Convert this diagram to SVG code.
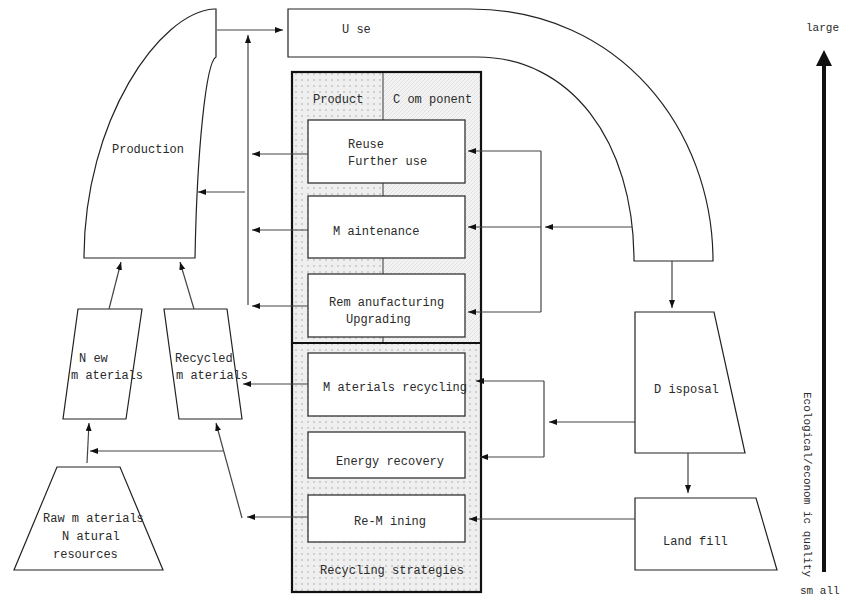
<svg xmlns="http://www.w3.org/2000/svg" width="842" height="598" viewBox="0 0 842 598">
<style>
  text { font-family: "Liberation Mono", "DejaVu Sans Mono", monospace; font-size: 12px; fill: #2a2a2a; }
  .small { font-size: 11px; }
  .shape { fill: #fff; stroke: #222; stroke-width: 1.2; }
  .box { fill: #fff; stroke: #333; stroke-width: 1.3; }
  .conn { fill: none; stroke: #444; stroke-width: 1.2; }
</style>
<defs>
  <marker id="ah" markerUnits="userSpaceOnUse" markerWidth="8" markerHeight="6" refX="8" refY="3" orient="auto">
    <path d="M0,0 L8,3 L0,6 z" fill="#111"/>
  </marker>
  <pattern id="dots" width="6" height="6" patternUnits="userSpaceOnUse">
    <rect width="6" height="6" fill="#efefef"/>
    <rect x="1" y="1" width="2" height="2" fill="#cfcfcf"/>
  </pattern>
  <pattern id="hatch" width="4" height="4" patternUnits="userSpaceOnUse">
    <rect width="4" height="4" fill="#f3f3f3"/>
    <path d="M0,4 L4,0" stroke="#dcdcdc" stroke-width="0.8"/>
  </pattern>
</defs>
<rect width="842" height="598" fill="#fff"/>

<g id="strategies">
  <rect x="292" y="72" width="91" height="271" fill="url(#dots)"/>
  <rect x="383" y="72" width="98" height="271" fill="url(#hatch)"/>
  <rect x="292" y="343" width="189" height="249" fill="url(#dots)"/>
  <line x1="383" y1="72" x2="383" y2="343" stroke="#555" stroke-width="1.2"/>
  <rect x="292" y="72" width="189" height="520" fill="none" stroke="#111" stroke-width="2.2"/>
  <line x1="292" y1="343" x2="481" y2="343" stroke="#111" stroke-width="2"/>
  <text x="313" y="103">Product</text>
  <text x="393" y="103">C om ponent</text>
  <text x="320" y="574">Recycling strategies</text>
</g>

<g id="reuse">
  <rect class="box" x="308" y="120" width="157" height="63"/>
  <text x="348" y="148">Reuse</text>
  <text x="348" y="165">Further use</text>
</g>
<g id="maintenance">
  <rect class="box" x="308" y="196" width="157" height="62"/>
  <text x="333" y="235">M aintenance</text>
</g>
<g id="remanufacturing">
  <rect class="box" x="308" y="274" width="157" height="63"/>
  <text x="329" y="306">Rem anufacturing</text>
  <text x="346" y="323">Upgrading</text>
</g>
<g id="materials-recycling">
  <rect class="box" x="308" y="353" width="157" height="63"/>
  <text x="323" y="391">M aterials recycling</text>
</g>
<g id="energy-recovery">
  <rect class="box" x="308" y="432" width="157" height="46"/>
  <text x="336" y="465">Energy recovery</text>
</g>
<g id="re-mining">
  <rect class="box" x="308" y="495" width="157" height="47"/>
  <text x="354" y="525">Re-M ining</text>
</g>

<g id="production">
  <path class="shape" d="M84,258 C84,120 160,12 214,9 L216,9 L216,57 C206,62 197,150 195,258 Z"/>
  <text x="112" y="153">Production</text>
</g>

<g id="use">
  <path class="shape" d="M288,9 L470,9 C620,9 713,130 713,261 L634,261 C634,140 570,57 477,57 L288,57 Z"/>
  <text x="342" y="33">U se</text>
</g>

<g id="disposal">
  <path class="shape" d="M635,312 L714,312 L745,453 L635,453 Z"/>
  <text x="654" y="393">D isposal</text>
</g>
<g id="landfill">
  <path class="shape" d="M635,498 L756,498 L777,570 L635,570 Z"/>
  <text x="663" y="545">Land fill</text>
</g>

<g id="new-materials">
  <path class="shape" d="M78,309 L142,309 L126,419 L63,419 Z"/>
  <text x="79" y="362">N ew</text>
  <text x="71" y="379">m aterials</text>
</g>
<g id="recycled-materials">
  <path class="shape" d="M164,309 L227,309 L242,419 L179,419 Z"/>
  <text x="175" y="362">Recycled</text>
  <text x="176" y="379">m aterials</text>
</g>
<g id="raw-materials">
  <path class="shape" d="M57,467 L120,467 L163,570 L14,570 Z"/>
  <text x="43" y="522">Raw m aterials</text>
  <text x="62" y="540">N atural</text>
  <text x="53" y="558">resources</text>
</g>

<g id="quality-axis">
  <line x1="824" y1="572" x2="824" y2="64" stroke="#111" stroke-width="4"/>
  <polygon points="824,50 816,66 832,66" fill="#111"/>
  <text class="small" x="806" y="31">large</text>
  <text class="small" x="800" y="594">sm all</text>
  <text class="small" transform="translate(804,392) rotate(90)" textLength="185" lengthAdjust="spacingAndGlyphs">Ecological/econom ic quality</text>
</g>

<g id="connectors">
  <path class="conn" d="M217,30 L283,30" marker-end="url(#ah)"/>
  <path class="conn" d="M248,305 L248,35" marker-end="url(#ah)"/>
  <path class="conn" d="M308,154 L252,154" marker-end="url(#ah)"/>
  <path class="conn" d="M308,230 L252,230" marker-end="url(#ah)"/>
  <path class="conn" d="M308,306 L252,306" marker-end="url(#ah)"/>
  <path class="conn" d="M245,192 L198,192" marker-end="url(#ah)"/>
  <path class="conn" d="M632,227 L545,227" marker-end="url(#ah)"/>
  <path class="conn" d="M541,151 L541,312"/>
  <path class="conn" d="M541,151 L468,151" marker-end="url(#ah)"/>
  <path class="conn" d="M541,227 L468,227" marker-end="url(#ah)"/>
  <path class="conn" d="M541,312 L468,312" marker-end="url(#ah)"/>
  <path class="conn" d="M672,261 L672,308" marker-end="url(#ah)"/>
  <path class="conn" d="M635,422 L549,422" marker-end="url(#ah)"/>
  <path class="conn" d="M544,381 L544,457"/>
  <path class="conn" d="M544,381 L476,381" marker-end="url(#ah)"/>
  <path class="conn" d="M544,457 L480,457" marker-end="url(#ah)"/>
  <path class="conn" d="M688,453 L688,493" marker-end="url(#ah)"/>
  <path class="conn" d="M635,519 L469,519" marker-end="url(#ah)"/>
  <path class="conn" d="M308,384 L243,384" marker-end="url(#ah)"/>
  <path class="conn" d="M308,517 L247,517" marker-end="url(#ah)"/>
  <path class="conn" d="M242,518 L216,423" marker-end="url(#ah)"/>
  <path class="conn" d="M223,451 L90,451" marker-end="url(#ah)"/>
  <path class="conn" d="M87,463 L89,423" marker-end="url(#ah)"/>
  <path class="conn" d="M109,309 L121,262" marker-end="url(#ah)"/>
  <path class="conn" d="M194,309 L180,262" marker-end="url(#ah)"/>
</g>
</svg>
